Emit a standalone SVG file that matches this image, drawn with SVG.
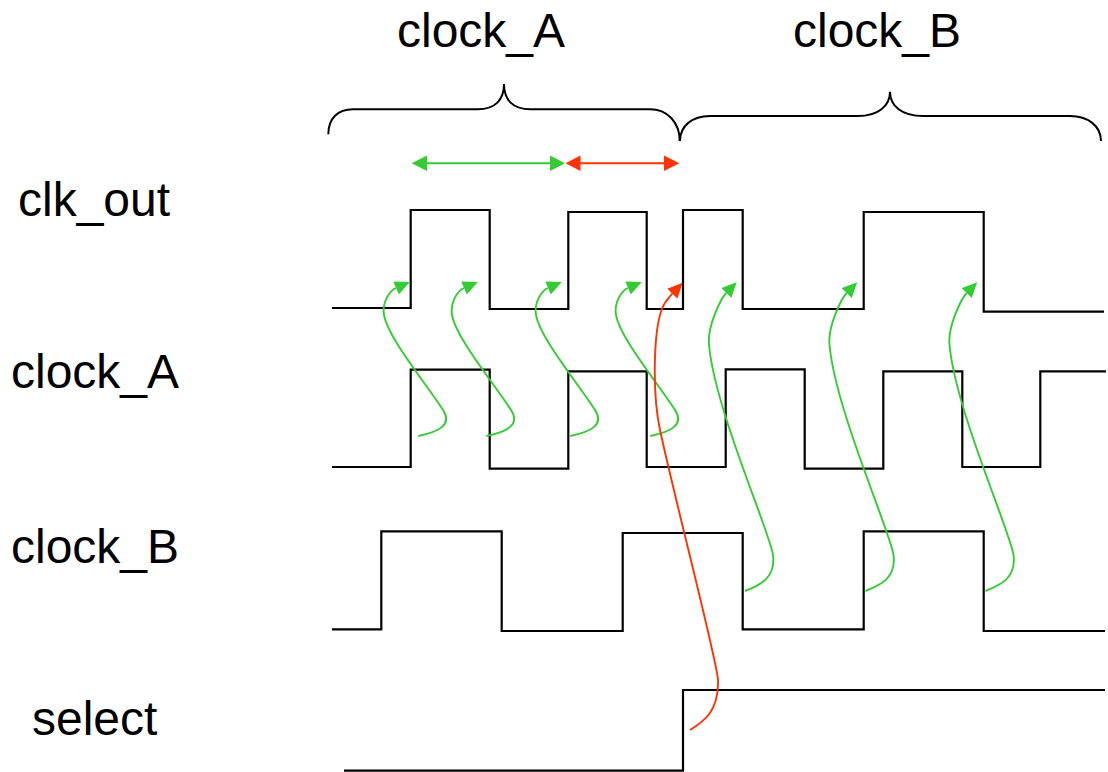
<svg xmlns="http://www.w3.org/2000/svg" width="1108" height="772" viewBox="0 0 1108 772">
<style>
  text { font-family: "Liberation Sans", Arial, sans-serif; font-size: 48px; fill: #000; }
  .wave { fill: none; stroke: #000; stroke-width: 2.2; }
  .brace { fill: none; stroke: #000; stroke-width: 2; }
  .g { fill: none; stroke: #33cc33; stroke-width: 1.9; }
  .r { fill: none; stroke: #ff3300; stroke-width: 1.9; }
  .gh { fill: #33cc33; }
  .rh { fill: #ff3300; }
</style>
<defs>
  <marker id="headG" markerUnits="userSpaceOnUse" markerWidth="16" markerHeight="15" refX="0" refY="7" orient="auto">
    <path d="M0,0 L15,7 L0,14 z" fill="#33cc33"/>
  </marker>
  <marker id="headR" markerUnits="userSpaceOnUse" markerWidth="16" markerHeight="15" refX="0" refY="7" orient="auto">
    <path d="M0,0 L15,7 L0,14 z" fill="#ff3300"/>
  </marker>
</defs>

<g id="labels">
  <text x="397" y="47">clock_A</text>
  <text x="793" y="47">clock_B</text>
</g>

<g id="brace_A">
  <path class="brace" d="M328.3,134.3 C328.3,118 338,109.3 353,109.3 H478 C495,109.3 504,100 504,84 C504,100 513,109.3 530,109.3 H650 C667,109.3 679.7,122 679.7,141"/>
</g>
<g id="brace_B">
  <path class="brace" d="M680,141 C680,126 692,116 710,116 H858 C878,116 890,106 890,91.7 C890,106 902,116 923,116 H1070 C1088,116 1101,126 1101,141"/>
</g>

<g id="clk_out">
  <text x="18" y="216">clk_out</text>
  <path class="wave" d="M332,308 H410.7 V210 H489.7 V309 H568.3 V212 H646.7 V309 H683 V210 H742.7 V309 H863.7 V212 H983.7 V311.7 H1104"/>
</g>
<g id="clock_A">
  <text x="11" y="388">clock_A</text>
  <path class="wave" d="M332,467 H410.7 V369.7 H489.7 V468.7 H568.3 V371.3 H646.7 V467 H725.7 V369.3 H804.7 V468.7 H883.3 V371.3 H962.3 V467 H1040.3 V371.3 H1106"/>
</g>
<g id="clock_B">
  <text x="11" y="563">clock_B</text>
  <path class="wave" d="M332,629.3 H381.3 V531.3 H501.7 V631 H622.7 V533 H742.7 V629.3 H863.7 V531.3 H983.7 V631 H1105"/>
</g>
<g id="select">
  <text x="32" y="735">select</text>
  <path class="wave" d="M344,770.7 H683 V690 H1105"/>
</g>

<g id="connectors">
  <line class="g" x1="422" y1="163.3" x2="555" y2="163.3"/>
  <polygon class="gh" points="411.7,163.3 427,155.5 427,171.1"/>
  <polygon class="gh" points="565,163.3 550,155.5 550,171.1"/>
  <line class="r" x1="575" y1="163.3" x2="669" y2="163.3"/>
  <polygon class="rh" points="565.5,163.3 580.5,155.5 580.5,171.1"/>
  <polygon class="rh" points="679.3,163.3 664,155.5 664,171.1"/>

  <path class="g" marker-end="url(#headG)" d="M418.3,436 C438,432 453,425 443,410 C425,382 388,338 384,315 C382,303 389,291 396,288"/>
  <path class="g" marker-end="url(#headG)" transform="translate(68,0)" d="M418.3,436 C438,432 453,425 443,410 C425,382 388,338 384,315 C382,303 389,291 396,288"/>
  <path class="g" marker-end="url(#headG)" transform="translate(152,0)" d="M418.3,436 C438,432 453,425 443,410 C425,382 388,338 384,315 C382,303 389,291 396,288"/>
  <path class="g" marker-end="url(#headG)" transform="translate(232,0)" d="M418.3,436 C438,432 453,425 443,410 C425,382 388,338 384,315 C382,303 389,291 396,288"/>

  <path class="g" marker-end="url(#headG)" d="M745,591 C760,585 776,578 773,555 C770,532 715,410 709,345 C707,325 722,297.3 726.2,293"/>
  <path class="g" marker-end="url(#headG)" transform="translate(120.5,0)" d="M745,591 C760,585 776,578 773,555 C770,532 715,410 709,345 C707,325 722,297.3 726.2,293"/>
  <path class="g" marker-end="url(#headG)" transform="translate(240.5,0)" d="M745,591 C760,585 776,578 773,555 C770,532 715,410 709,345 C707,325 722,297.3 726.2,293"/>

  <path class="r" marker-end="url(#headR)" d="M690,730 C703,722 719,712 718,680 C717,660 675,500 660,430 C652.5,395 652,320 666,301.3 C668,299 670,296 672.3,293.6"/>
</g>
</svg>
